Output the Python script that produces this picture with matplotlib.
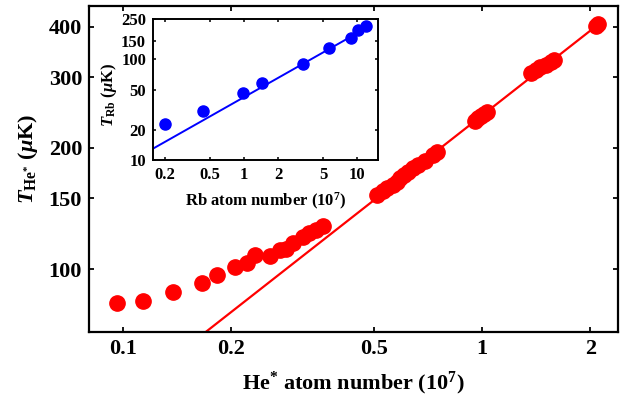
import numpy as np
import matplotlib
matplotlib.use("Agg")
import matplotlib.pyplot as plt
from matplotlib.ticker import FixedLocator, FixedFormatter, NullLocator

plt.rcParams['font.family'] = ['Liberation Serif', 'DejaVu Serif']
plt.rcParams['font.weight'] = 'bold'
plt.rcParams['axes.labelweight'] = 'bold'
plt.rcParams['mathtext.fontset'] = 'custom'
plt.rcParams['mathtext.rm'] = 'Liberation Serif:bold'
plt.rcParams['mathtext.bf'] = 'Liberation Serif:bold'
plt.rcParams['mathtext.it'] = 'Liberation Serif:italic:bold'

# He* data (atom number in 1e7, temperature in uK)
he_n = [0.0962, 0.1137, 0.1378, 0.166, 0.183, 0.205, 0.2215, 0.2333, 0.2566,
        0.2737, 0.2844, 0.2976, 0.3172, 0.3298, 0.345, 0.3606,
        0.510, 0.530, 0.544, 0.565, 0.580, 0.591, 0.607, 0.622, 0.643, 0.663,
        0.694, 0.731, 0.749,
        0.956, 0.975, 0.994, 1.013, 1.032,
        1.368, 1.413, 1.451, 1.507, 1.557, 1.585,
        2.079, 2.104]
he_t = [82.3, 83.3, 87.7, 92.3, 96.6, 101.2, 103.5, 108.3, 107.7,
        111.5, 112.0, 116.0, 120.0, 123.0, 125.0, 128.0,
        152.8, 156.0, 159.0, 162.0, 164.5, 168.0, 171.5, 174.3, 178.0, 181.4,
        186.0, 192.3, 195.0,
        234.0, 237.7, 240.0, 243.0, 246.0,
        307.0, 312.0, 317.8, 322.0, 328.0, 330.9,
        403.0, 406.0]
he_fit_amp = 241.0
he_fit_exp = 0.70

# Rb data (inset)
rb_n = [0.2, 0.434, 0.98, 1.44, 3.33, 5.65, 8.85, 10.2, 12.0]
rb_t = [22.9, 30.9, 45.7, 57.5, 89.0, 129.0, 162.0, 195.0, 214.0]
rb_fit_amp = 42.0
rb_fit_exp = 0.635

main_xticks = [0.1, 0.2, 0.5, 1, 2]
main_xlabels = ['0.1', '0.2', '0.5', '1', '2']
main_yticks = [100, 150, 200, 300, 400]
main_ylabels = ['100', '150', '200', '300', '400']
ins_xticks = [0.2, 0.5, 1, 2, 5, 10]
ins_xlabels = ['0.2', '0.5', '1', '2', '5', '10']
ins_yticks = [10, 20, 50, 100, 150, 250]
ins_ylabels = ['10', '20', '50', '100', '150', '250']


def style_axes(ax, lw, fs, tl, xt, xl, yt, yl):
    ax.set_xscale('log')
    ax.set_yscale('log')
    ax.xaxis.set_major_locator(FixedLocator(xt))
    ax.xaxis.set_major_formatter(FixedFormatter(xl))
    ax.yaxis.set_major_locator(FixedLocator(yt))
    ax.yaxis.set_major_formatter(FixedFormatter(yl))
    ax.xaxis.set_minor_locator(NullLocator())
    ax.yaxis.set_minor_locator(NullLocator())
    for s in ax.spines.values():
        s.set_linewidth(lw)
    ax.tick_params(which='major', direction='in', top=True, right=True,
                   width=lw * 0.8, length=tl, labelsize=fs, pad=5)


fig = plt.figure(figsize=(6.22, 4.01), dpi=100)
ax = fig.add_axes([0.143, 0.172, 0.8506, 0.813])

fit_x = np.logspace(np.log10(0.15), np.log10(2.1), 100)
ax.plot(fit_x, he_fit_amp * fit_x ** he_fit_exp, color='red', lw=1.6, zorder=2)
ax.plot(he_n, he_t, 'o', color='red', ms=11, mec='red', zorder=3)

style_axes(ax, 1.6, 16, 3.5, main_xticks, main_xlabels, main_yticks, main_ylabels)
ax.set_xlim(0.0804, 2.39)
ax.set_ylim(69.7, 451)
ax.set_xlabel(r'He$^{*}$ atom number (10$^{7}$)', fontsize=16, labelpad=8)
ax.set_ylabel(r'$T_{\mathrm{He}^{*}}$ ($\mu$K)', fontsize=16)
ax.yaxis.set_label_coords(-0.092, 0.53)

ins = fig.add_axes([0.246, 0.601, 0.362, 0.3516])
rfit_x = np.logspace(np.log10(0.15), np.log10(12), 100)
ins.plot(rfit_x, rb_fit_amp * rfit_x ** rb_fit_exp, color='blue', lw=1.4, zorder=2)
ins.plot(rb_n, rb_t, 'o', color='blue', ms=8, zorder=3)
style_axes(ins, 1.4, 12, 2.0, ins_xticks, ins_xlabels, ins_yticks, ins_ylabels)
ins.set_xlim(0.157, 15.3)
ins.set_ylim(10, 250)
ins.set_xlabel(r'Rb atom number (10$^{7}$)', fontsize=12, labelpad=6)
ins.set_ylabel(r'$T_{\mathrm{Rb}}$ ($\mu$K)', fontsize=12)
ins.yaxis.set_label_coords(-0.15, 0.46)

fig.savefig('out.png', dpi=100)
